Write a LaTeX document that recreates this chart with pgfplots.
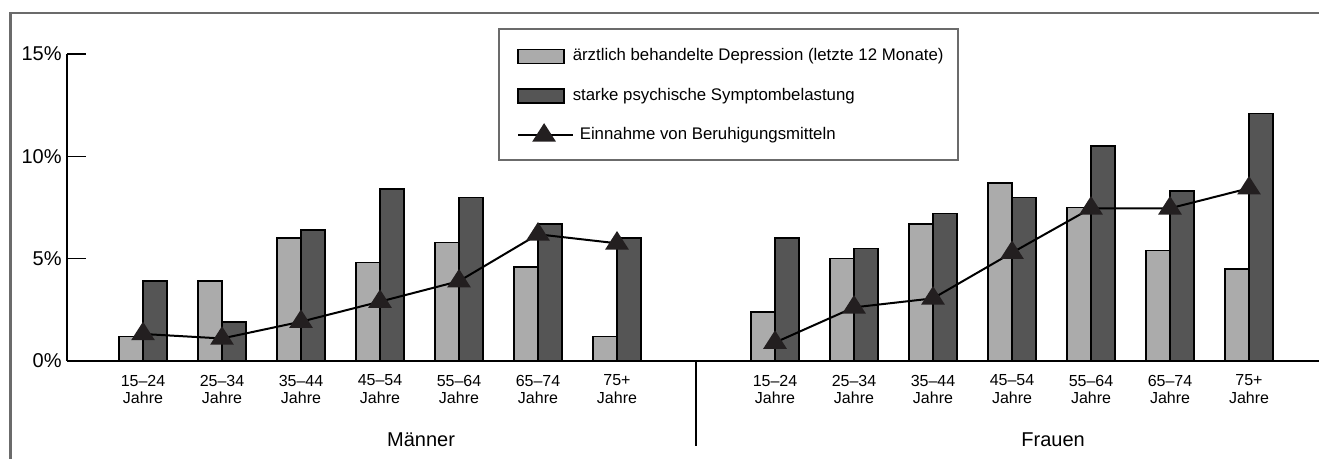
\documentclass[border=0pt]{standalone}
\usepackage{fontspec}
\setmainfont{Liberation Sans}
\usepackage{pgfplots}
\pgfplotsset{compat=1.18}
\definecolor{lightbar}{HTML}{ABABAB}
\definecolor{darkbar}{HTML}{555555}
\definecolor{framegray}{HTML}{6B6B6B}
\definecolor{markblack}{HTML}{231F20}
\begin{document}
\begin{tikzpicture}
\path[use as bounding box] (0,0) rectangle (659.5pt,229.5pt);
\begin{axis}[
  at={(71.5pt,49pt)}, anchor=origin,
  scale only axis, width=626pt, height=153.5pt,
  xmin=-0.962, xmax=14.886, ymin=0, ymax=15,
  clip=false,
  axis x line=bottom, axis y line=left,
  axis line style={-, line width=0.75pt, black},
  ytick={0,5,10,15},
  yticklabels={0\%,5\%,10\%,15\%},
  tick align=inside,
  ytick style={line width=0.75pt, black},
  major tick length=9.5pt,
  yticklabel style={font=\fontsize{10}{12}\selectfont, inner sep=0pt, xshift=-2.5pt},
  xtick={0,1,2,3,4,5,6,8,9,10,11,12,13,14},
  xticklabels={{15–24\\Jahre},{25–34\\Jahre},{35–44\\Jahre},{45–54\\Jahre},{55–64\\Jahre},{65–74\\Jahre},{75+\\Jahre},
               {15–24\\Jahre},{25–34\\Jahre},{35–44\\Jahre},{45–54\\Jahre},{55–64\\Jahre},{65–74\\Jahre},{75+\\Jahre}},
  xtick style={draw=none},
  xticklabel style={font=\fontsize{8}{8.85}\selectfont, align=center, inner sep=0pt, anchor=north, yshift=-6.75pt},
  legend cell align=left,
  legend style={at={(axis description cs:0.35942,1.02606)}, anchor=north west,
    draw=none, fill=none, inner sep=0pt, row sep=9.75pt, column sep=4pt,
    nodes={inner sep=0pt, text height=6.4pt, text depth=2pt},
    font=\fontsize{8.4}{10}\selectfont},
]
\addplot[ybar, bar width=12pt, bar shift=-6pt, fill=lightbar, draw=black, line width=0.7pt,
  legend image code/.code={\draw[fill=lightbar, draw=black, line width=0.7pt] (0pt,-3.5pt) rectangle (23pt,3.5pt); \path[draw=none, fill=none] (0pt,-5pt) rectangle (23pt,5pt);}]
  coordinates {(0,1.2) (1,3.9) (2,6.0) (3,4.8) (4,5.8) (5,4.6) (6,1.2)
               (8,2.4) (9,5.0) (10,6.7) (11,8.7) (12,7.5) (13,5.4) (14,4.5)};
\addlegendentry{ärztlich behandelte Depression (letzte 12 Monate)}
\addplot[ybar, bar width=12pt, bar shift=6pt, fill=darkbar, draw=black, line width=0.7pt,
  legend image code/.code={\draw[fill=darkbar, draw=black, line width=0.7pt] (0pt,-3.5pt) rectangle (23pt,3.5pt); \path[draw=none, fill=none] (0pt,-5pt) rectangle (23pt,5pt);}]
  coordinates {(0,3.9) (1,1.9) (2,6.4) (3,8.4) (4,8.0) (5,6.7) (6,6.0)
               (8,6.0) (9,5.5) (10,7.2) (11,8.0) (12,10.5) (13,8.3) (14,12.1)};
\addlegendentry{starke psychische Symptombelastung}
\addplot[black, line width=1pt, mark=triangle*, mark size=5.8pt, unbounded coords=jump,
  mark options={solid, fill=markblack, draw=markblack, yscale=0.9},
  legend image code/.code={\draw[black, line width=1pt, overlay, mark=triangle*, mark size=5.8pt, mark options={solid, fill=markblack, draw=markblack, yscale=0.9}, mark indices={2}] plot coordinates {(0pt,0pt) (13pt,0pt) (27.5pt,0pt)}; \path[draw=none, fill=none] (0pt,-5pt) rectangle (23pt,5pt);}]
  coordinates {(0,1.32) (1,1.1) (2,1.92) (3,2.9) (4,3.9) (5,6.19) (6,5.75) (7,nan)
               (8,0.9) (9,2.62) (10,3.06) (11,5.29) (12,7.46) (13,7.46) (14,8.44)};
\addlegendentry{\hspace{3.5pt}Einnahme von Beruhigungsmitteln}
\node[anchor=base, font=\fontsize{10}{12}\selectfont, inner sep=0pt] at ([yshift=-42.85pt]axis cs:3.52,0) {Männer};
\node[anchor=base, font=\fontsize{10}{12}\selectfont, inner sep=0pt] at ([yshift=-42.85pt]axis cs:11.52,0) {Frauen};
\draw[line width=0.75pt, black] (axis cs:7,0) -- ([yshift=-42.5pt]axis cs:7,0);
\end{axis}
\begin{scope}[x=0.5pt, y=-0.5pt, yshift=229.5pt]
\draw[framegray, line width=1.3pt] (10.5,460) -- (10.5,13) -- (1320,13);
\draw[framegray, line width=1pt] (499,29) rectangle (958,160);
\end{scope}
\end{tikzpicture}
\end{document}
